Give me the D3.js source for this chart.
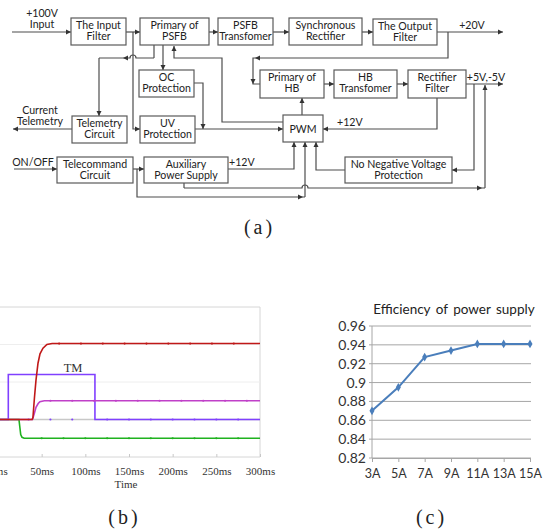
<!DOCTYPE html>
<html><head><meta charset="utf-8">
<script src="https://cdn.jsdelivr.net/npm/d3@7"></script>
<style>body{margin:0;background:#fff} svg{display:block}</style>
</head><body>
<svg id="c" width="549" height="530"></svg>
<script>
// ===== Chart (b) data: start-up waveforms =====
const timeTicks = [0, 50, 100, 150, 200, 250, 300];
const timeLabels = ["0ms", "50ms", "100ms", "150ms", "200ms", "250ms", "300ms"];
const redT = [0, 39, 40, 41.8, 43.5, 45.8, 48.1, 51.5, 56, 62, 300];
const redV = [0, 0, 0.1, 1.2, 2.1, 3.0, 3.5, 3.8, 4.0, 4.05, 4.05];
const magT = [0, 39.5, 41.5, 43.5, 46, 48, 53, 300];
const magV = [0, 0, 0.3, 0.65, 0.85, 0.95, 1.0, 1.0];
const blueT = [0, 11.8, 11.8, 111, 111, 300];
const blueV = [0, 0, 2.4, 2.4, 0, 0];
const greenT = [0, 24, 25, 26, 27.5, 30, 300];
const greenV = [0, 0, -0.4, -0.8, -0.95, -1, -1];
const redMarks = [70, 95, 120, 145, 170, 195, 220, 245, 270];
const magMarks = [60, 85, 110, 135, 160, 185, 210, 235, 260, 285];
const blueMarks = [35, 60, 85, 125, 150, 175, 200, 225, 250, 275];
const greenMarks = [50, 75, 100, 125, 150, 175, 200, 225, 250, 275];

// ===== Chart (c) data: efficiency =====
const currents = ["3A", "5A", "7A", "9A", "11A", "13A", "15A"];
const efficiency = [0.870, 0.895, 0.927, 0.934, 0.941, 0.941, 0.941];
const effTicks = [0.82, 0.84, 0.86, 0.88, 0.9, 0.92, 0.94, 0.96];

const svg = d3.select("#c");
const FONT = "Lato, 'Open Sans', sans-serif";

// ================= (a) block diagram =================
const dg = svg.append("g");
const LC = "#4d4d4d";
function box(x, y, w, h, lines) {
  dg.append("rect").attr("x", x).attr("y", y).attr("width", w).attr("height", h)
    .attr("fill", "#fff").attr("stroke", "#5a5a5a").attr("stroke-width", 1.2);
  const cx = x + w / 2;
  if (lines.length === 1) {
    txt(cx, y + h / 2 + 4, lines[0], "middle");
  } else {
    txt(cx, y + 11, lines[0], "middle");
    txt(cx, y + 22, lines[1], "middle");
  }
}
function txt(x, y, s, anchor) {
  dg.append("text").attr("x", x).attr("y", y).attr("text-anchor", anchor || "start")
    .attr("font-family", FONT).attr("font-size", 10.6).attr("fill", "#222").text(s);
}
function poly(pts) {
  dg.append("path").attr("d", d3.line()(pts)).attr("fill", "none")
    .attr("stroke", LC).attr("stroke-width", 1.2);
}
function hopH(x1, x2, y, cx) {
  const d = x1 < x2
    ? `M${x1},${y}L${cx - 3},${y}A3,3 0 0 1 ${cx + 3},${y}L${x2},${y}`
    : `M${x1},${y}L${cx + 3},${y}A3,3 0 0 0 ${cx - 3},${y}L${x2},${y}`;
  dg.append("path").attr("d", d).attr("fill", "none").attr("stroke", LC).attr("stroke-width", 1.2);
}
function arrow(x, y, dir) {
  const L = 5, W = 2.5;
  let p;
  if (dir === "r") p = [[x, y], [x - L, y - W], [x - L, y + W]];
  if (dir === "l") p = [[x, y], [x + L, y - W], [x + L, y + W]];
  if (dir === "u") p = [[x, y], [x - W, y + L], [x + W, y + L]];
  if (dir === "d") p = [[x, y], [x - W, y - L], [x + W, y - L]];
  dg.append("path").attr("d", d3.line()(p) + "Z").attr("fill", "#333");
}

// connections
poly([[12, 32], [71, 32]]); arrow(71, 32, "r");
poly([[126, 32], [140, 32]]); arrow(140, 32, "r");
poly([[133, 32], [133, 129], [140, 129]]); arrow(140, 129, "r");
poly([[209, 32], [218, 32]]); arrow(218, 32, "r");
poly([[273, 32], [289, 32]]); arrow(289, 32, "r");
poly([[362, 32], [373, 32]]); arrow(373, 32, "r");
poly([[437, 32], [503, 32]]); arrow(503, 32, "r");
poly([[448, 32], [448, 58], [253, 58], [253, 84], [260, 84]]);
arrow(255, 58, "l"); arrow(253, 84, "d");
poly([[163, 45], [163, 70]]); arrow(163, 70, "d");
poly([[154, 45], [154, 58]]);
hopH(154, 99, 58, 133);
poly([[99, 58], [99, 116]]); arrow(99, 116, "d"); arrow(123, 58, "l");
poly([[283, 122], [222, 122], [222, 58], [174, 58], [174, 46]]); arrow(174, 46, "u");
poly([[194, 83], [203, 83], [203, 129]]); arrow(203, 129, "d");
poly([[195, 129], [283, 129]]); arrow(283, 129, "r");
poly([[302, 116], [302, 98]]); arrow(302, 98, "u");
poly([[324, 84], [334, 84]]); arrow(334, 84, "r");
poly([[397, 84], [408, 84]]); arrow(408, 84, "r");
poly([[466, 84], [503, 84]]); arrow(503, 84, "r");
poly([[437, 98], [437, 129], [323, 129]]); arrow(323, 129, "l");
poly([[474, 84], [474, 170], [452, 170]]); arrow(452, 170, "l");
poly([[72, 129], [13, 129]]); arrow(13, 129, "l");
poly([[14, 169], [57, 169]]); arrow(57, 169, "r");
poly([[133, 169], [144, 169]]); arrow(144, 169, "r");
poly([[137, 169], [137, 197], [305, 197]]); arrow(303, 197, "r");
poly([[305, 197], [305, 142]]); arrow(305, 142, "u");
poly([[228, 169], [294, 169], [294, 142]]); arrow(294, 142, "u");
poly([[184, 183], [184, 188]]);
hopH(184, 485, 188, 305);
arrow(482, 188, "r");
poly([[485, 188], [485, 85]]); arrow(485, 85, "u");
poly([[345, 170], [316, 170], [316, 142]]); arrow(316, 142, "u");

// boxes
box(71, 18, 55, 27, ["The Input", "Filter"]);
box(140, 18, 69, 27, ["Primary of", "PSFB"]);
box(218, 18, 55, 27, ["PSFB", "Transfomer"]);
box(289, 18, 73, 27, ["Synchronous", "Rectifier"]);
box(373, 19, 64, 26, ["The Output", "Filter"]);
box(139, 70, 55, 27, ["OC", "Protection"]);
box(260, 70, 64, 28, ["Primary of", "HB"]);
box(334, 70, 63, 28, ["HB", "Transfomer"]);
box(408, 70, 58, 28, ["Rectifier", "Filter"]);
box(72, 116, 55, 27, ["Telemetry", "Circuit"]);
box(140, 116, 55, 27, ["UV", "Protection"]);
box(283, 115, 40, 27, ["PWM"]);
box(57, 157, 76, 26, ["Telecommand", "Circuit"]);
box(144, 157, 84, 26, ["Auxiliary", "Power Supply"]);
box(345, 157, 107, 26, ["No Negative Voltage", "Protection"]);

// free labels
txt(42, 17, "+100V", "middle");
txt(42, 28, "Input", "middle");
txt(472, 29, "+20V", "middle");
txt(486, 81, "+5V,-5V", "middle");
txt(40, 114, "Current", "middle");
txt(40, 125, "Telemetry", "middle");
txt(33, 166, "ON/OFF", "middle");
txt(229, 166, "+12V", "start");
txt(337, 126, "+12V", "start");

// captions
function caption(x, y, letter) {
  const t = svg.append("text").attr("x", x).attr("y", y).attr("text-anchor", "middle")
    .attr("font-family", "'Liberation Serif', serif").attr("font-size", 20).attr("fill", "#222");
  t.append("tspan").text("(");
  t.append("tspan").attr("dx", 3).text(letter);
  t.append("tspan").attr("dx", 3).text(")");
}
caption(258, 234, "a");

// ================= (b) waveforms =================
const bx = d3.scaleLinear().domain([0, 300]).range([-2, 260]);
const by = d3.scaleLinear().domain([-2, 6]).range([457, 307]);
const bg = svg.append("g");
bg.append("line").attr("x1", 0).attr("x2", 260).attr("y1", 307).attr("y2", 307).attr("stroke", "#d6d6d6");
bg.append("line").attr("x1", 260).attr("x2", 260).attr("y1", 307).attr("y2", 457).attr("stroke", "#d6d6d6");
bg.append("line").attr("x1", 0).attr("x2", 260).attr("y1", 457).attr("y2", 457).attr("stroke", "#d6d6d6");
[2, 4].forEach(v => bg.append("line").attr("x1", 0).attr("x2", 260)
  .attr("y1", by(v)).attr("y2", by(v)).attr("stroke", "#eeeeee"));
bg.append("line").attr("x1", 0).attr("x2", 260).attr("y1", by(0)).attr("y2", by(0))
  .attr("stroke", "#c8c8c8").attr("stroke-width", 1.5);
const xAxisB = d3.axisBottom(bx).tickValues(timeTicks).tickSize(-3).tickPadding(10)
  .tickFormat((d, i) => timeLabels[i]);
const axb = bg.append("g").attr("transform", "translate(0,457)").call(xAxisB);
axb.select(".domain").remove();
axb.selectAll("line").attr("stroke", "#c8c8c8");
axb.selectAll("text").attr("font-family", "'Liberation Serif', serif").attr("font-size", 11).attr("fill", "#333");
bg.append("text").attr("x", 126).attr("y", 488).attr("text-anchor", "middle")
  .attr("font-family", "'Liberation Serif', serif").attr("font-size", 11).attr("fill", "#333").text("Time");

const lineB = d3.line().x(d => bx(d[0])).y(d => by(d[1]));
function series(T, V, color, marks) {
  const pts = T.map((t, i) => [t, V[i]]);
  bg.append("path").attr("d", lineB(pts)).attr("fill", "none").attr("stroke", color).attr("stroke-width", 1.6);
  const last = V[V.length - 1];
  marks.forEach(t => bg.append("circle").attr("cx", bx(t)).attr("cy", by(last)).attr("r", 1.1).attr("fill", color));
}
series(greenT, greenV, "#1fb21f", greenMarks);
series(blueT, blueV, "#8040ff", blueMarks);
series(magT, magV, "#c040c8", magMarks);
series(redT, redV, "#c01818", redMarks);
bg.append("text").attr("x", 73).attr("y", 372).attr("text-anchor", "middle")
  .attr("font-family", "'Liberation Serif', serif").attr("font-size", 12.5).attr("fill", "#333").text("TM");

caption(123, 524, "b");

// ================= (c) efficiency =================
const cx = d3.scalePoint().domain(currents).range([372, 530]).padding(0);
const cy = d3.scaleLinear().domain([0.82, 0.96]).range([458, 326]);
const cg = svg.append("g");
effTicks.forEach(v => cg.append("line").attr("x1", 369).attr("x2", 531)
  .attr("y1", cy(v)).attr("y2", cy(v)).attr("stroke", "#a6a6a6").attr("stroke-width", 1));
cg.append("line").attr("x1", 372).attr("x2", 372).attr("y1", cy(0.96)).attr("y2", cy(0.82)).attr("stroke", "#a6a6a6");
const yAxisC = d3.axisLeft(cy).tickValues(effTicks).tickSize(0).tickPadding(6)
  .tickFormat(d => String(+d.toFixed(2)));
const ayc = cg.append("g").attr("transform", "translate(372,0)").call(yAxisC);
ayc.select(".domain").remove();
ayc.selectAll("text").attr("font-family", FONT).attr("font-size", 14).attr("fill", "#333");
const xAxisC = d3.axisBottom(cx).tickSize(4).tickPadding(7);
const axc = cg.append("g").attr("transform", "translate(0,458)").call(xAxisC);
axc.select(".domain").attr("stroke", "#a6a6a6");
axc.selectAll("line").attr("stroke", "#a6a6a6");
axc.selectAll("text").attr("font-family", FONT).attr("font-size", 12.5).attr("fill", "#333");

const lineC = d3.line().x((d, i) => cx(currents[i])).y(d => cy(d));
cg.append("path").attr("d", lineC(efficiency)).attr("fill", "none").attr("stroke", "#4a7ebb").attr("stroke-width", 2);
cg.selectAll("path.m").data(efficiency).enter().append("path").attr("class", "m")
  .attr("d", d3.symbol().type(d3.symbolDiamond).size(22))
  .attr("transform", (d, i) => `translate(${cx(currents[i])},${cy(d)})`)
  .attr("fill", "#4a7ebb");
cg.append("text").attr("x", 454).attr("y", 314).attr("text-anchor", "middle")
  .attr("font-family", FONT).attr("font-size", 13.5).attr("fill", "#222")
  .attr("word-spacing", 2).text("Efficiency of power supply");

caption(430, 524, "c");
</script>
</body></html>
